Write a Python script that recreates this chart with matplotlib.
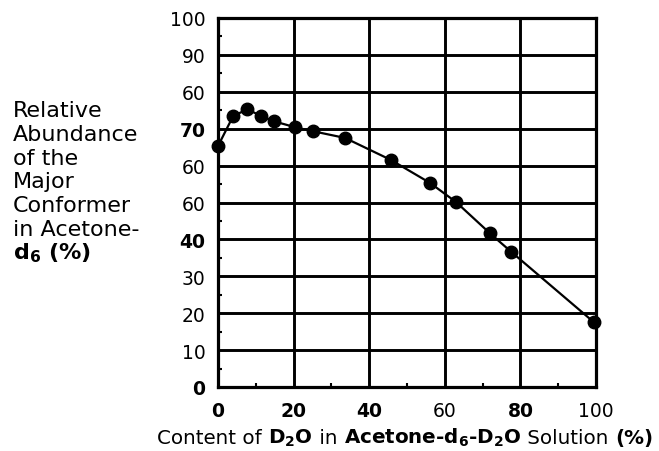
import matplotlib
matplotlib.use("Agg")
import matplotlib.pyplot as plt
from matplotlib.offsetbox import TextArea, HPacker, AnchoredOffsetbox

# D2O content (%) and relative abundance of the major conformer (%)
d2o_content = [0.0, 4.0, 7.8, 11.4, 14.8, 20.4, 25.2, 33.6, 45.8, 56.1, 63.0, 72.0, 77.5, 99.5]
abundance = [65.3, 73.4, 75.3, 73.4, 72.0, 70.4, 69.3, 67.5, 61.5, 55.3, 50.1, 41.6, 36.7, 17.5]

x_ticks = [0, 20, 40, 60, 80, 100]
x_tick_labels = ["0", "20", "40", "60", "80", "100"]
x_tick_bold = [True, True, True, False, True, False]

y_ticks = [0, 10, 20, 30, 40, 50, 60, 70, 80, 90, 100]
y_tick_labels = ["0", "10", "20", "30", "40", "60", "60", "70", "60", "90", "100"]
y_tick_bold = [True, False, False, False, True, False, False, True, False, False, False]

y_label_lines = ["Relative", "Abundance", "of the", "Major", "Conformer", "in Acetone-",
                 r"d$_\mathbf{6}$ (%)"]

x_label_parts = [
    ("Content of ", "normal"),
    (r"D$_\mathbf{2}$O", "bold"),
    (" in ", "normal"),
    (r"Acetone-d$_\mathbf{6}$-D$_\mathbf{2}$O", "bold"),
    (" Solution ", "normal"),
    ("(%)", "bold"),
]

plt.rcParams["font.family"] = ["DejaVu Sans"]

W, H = 659, 452
fig = plt.figure(figsize=(W / 100, H / 100), dpi=100)
ax = fig.add_axes([218 / W, 1 - 388 / H, (596 - 218) / W, (388 - 19) / H])

ax.set_xlim(0, 100)
ax.set_ylim(0, 100)

ax.plot(d2o_content, abundance, color="black", lw=1.6, marker="o",
        markersize=9, markerfacecolor="black", markeredgecolor="black",
        zorder=5, clip_on=False)

ax.set_xticks(x_ticks)
ax.set_xticklabels(x_tick_labels)
ax.set_yticks(y_ticks)
ax.set_yticklabels(y_tick_labels)
for lab, b in zip(ax.get_xticklabels(), x_tick_bold):
    lab.set_fontweight("bold" if b else "normal")
    lab.set_fontsize(13.5)
for lab, b in zip(ax.get_yticklabels(), y_tick_bold):
    lab.set_fontweight("bold" if b else "normal")
    lab.set_fontsize(13.5)

ax.tick_params(axis="x", which="major", length=0, pad=10, colors="black")
ax.tick_params(axis="y", which="major", length=0, pad=9, colors="black")
ax.set_xticks([10, 30, 50, 70, 90], minor=True)
ax.set_yticks([5, 15, 25, 35, 45, 55, 65, 75, 85, 95], minor=True)
ax.tick_params(which="minor", direction="in", length=3, width=1.5)

ax.grid(True, which="major", color="black", lw=2.1)
for sp in ax.spines.values():
    sp.set_linewidth(2.3)
    sp.set_color("black")

# multi-line y label on the left
y0 = 117
step = 23.8
for i, line in enumerate(y_label_lines):
    fig.text(13 / W, 1 - (y0 + i * step) / H, line, ha="left", va="baseline",
             fontsize=16, fontweight="bold" if i == len(y_label_lines) - 1 else "normal")

# x label with mixed weights
areas = [TextArea(t, textprops=dict(fontsize=14.3, fontweight=w, color="black")) for t, w in x_label_parts]
pack = HPacker(children=areas, align="baseline", pad=0, sep=0)
box = AnchoredOffsetbox(loc="center", child=pack, frameon=False, pad=0, borderpad=0,
                        bbox_to_anchor=(405 / W, 1 - 438 / H), bbox_transform=fig.transFigure)
fig.add_artist(box)

fig.savefig("out.png", dpi=100, facecolor="white")
